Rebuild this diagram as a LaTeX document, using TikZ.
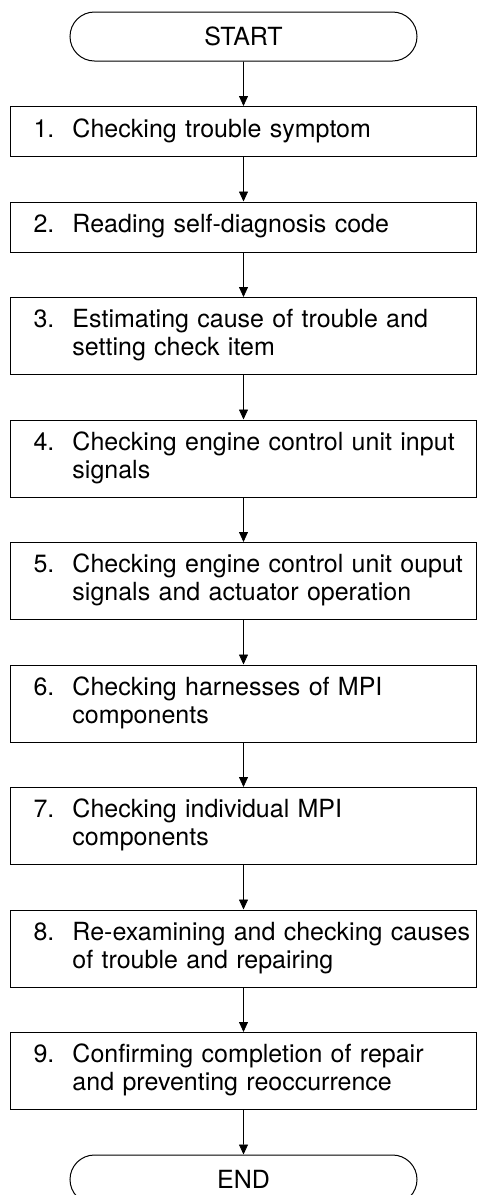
\documentclass[tikz,border=0pt]{standalone}
\usepackage{fontspec}
\setmainfont{TeX Gyre Heros}
\usetikzlibrary{shapes.misc, arrows.meta, positioning}

% number column plus hanging text lines
\newcommand{\stepitem}[2]{\makebox[39pt][l]{#1}\begin{tabular}[t]{@{}l@{}}#2\end{tabular}}

\begin{document}
\begin{tikzpicture}[x=1pt, y=1pt, node distance=44.5pt,
        every node/.style={font=\fontsize{25}{28}\selectfont},
        term/.style={draw, line width=1pt, rounded rectangle, minimum width=347pt, minimum height=49pt, inner sep=0pt},
        stepbox/.style={draw, line width=1pt, minimum width=466pt, minimum height=77pt, inner xsep=23pt, text width=420pt, align=left},
        flow/.style={-{Triangle[width=9pt,length=10pt]}, line width=0.8pt}]
        \useasboundingbox (0,0) rectangle (477,-1195);
        % Start
        \node[term] (start) at (243.5,-36.5) {START};
        % Steps
        \node[stepbox, minimum height=50pt, below=of start] (s1) {\stepitem{1.}{Checking trouble symptom}};
        \node[stepbox, minimum height=50pt, below=of s1] (s2) {\stepitem{2.}{Reading self-diagnosis code}};
        \node[stepbox, below=of s2] (s3) {\stepitem{3.}{Estimating cause of trouble and\\setting check item}};
        \node[stepbox, below=of s3] (s4) {\stepitem{4.}{Checking engine control unit input\\signals}};
        \node[stepbox, below=of s4] (s5) {\stepitem{5.}{Checking engine control unit ouput\\signals and actuator operation}};
        \node[stepbox, below=of s5] (s6) {\stepitem{6.}{Checking harnesses of MPI\\components}};
        \node[stepbox, below=of s6] (s7) {\stepitem{7.}{Checking individual MPI\\components}};
        \node[stepbox, below=of s7] (s8) {\stepitem{8.}{Re-examining and checking causes\\of trouble and repairing}};
        \node[stepbox, below=of s8] (s9) {\stepitem{9.}{Confirming completion of repair\\and preventing reoccurrence}};
        % End
        \node[term, below=of s9] (end) {END};
        % Arrows
        \foreach \a/\b in {start/s1, s1/s2, s2/s3, s3/s4, s4/s5, s5/s6, s6/s7, s7/s8, s8/s9, s9/end} {
            \draw[flow] (\a) -- (\b);
        }
    \end{tikzpicture}
\end{document}
